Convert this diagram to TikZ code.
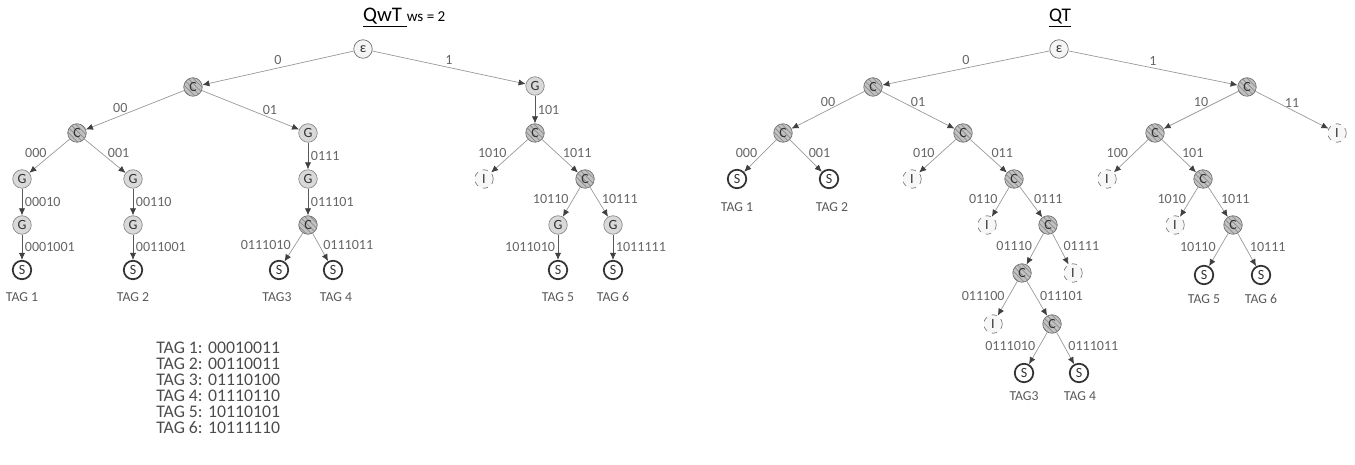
\documentclass[tikz,border=0pt]{standalone}
\usepackage{fontspec}
\setmainfont{Carlito}
\usetikzlibrary{arrows.meta,patterns}

\tikzset{
	tn/.style={circle, minimum size=0.37cm, inner sep=0pt, font=\fontsize{8}{8}\selectfont, text=black!80},
	rnode/.style={tn, draw=black!55, fill=black!4},
	cnode/.style={tn, draw=black!55, preaction={fill=black!24}, pattern=north west lines, pattern color=black!45},
	gnode/.style={tn, draw=black!45, fill=black!15},
	snode/.style={tn, draw=black!80, fill=white, line width=1pt},
	inode/.style={tn, draw=black!50, fill=black!3, dashed},
	lbl/.style={font=\fontsize{8}{8}\selectfont, text=black!60, inner sep=1.5pt},
	tag/.style={font=\fontsize{7.8}{8}\selectfont, text=black!65},
	arr/.style={draw=black!40, line width=0.4pt, -{Latex[length=4pt,width=3.5pt,color=black!75]}},
	varr/.style={arr, draw=black!65},
}

\begin{document}
\begin{tikzpicture}[x=0.02cm, y=-0.02cm]
			%%%%% START %%%%%
			\useasboundingbox (0,0) rectangle (1355,465);
			
			% QwT
			\node[anchor=west] (wtitle) at (357,18) {\fontsize{11.8}{12}\selectfont\underline{QwT\ }\fontsize{8.6}{9}\selectfont ws = 2};
			
			\node[rnode] (wr) at (363,49) {ε};
			\node[cnode] (w0) at (193,87) {C};
			\node[gnode] (w1) at (535,86) {G};
			\node[cnode] (w00) at (77,133) {C};
			\node[gnode] (w01) at (308,133) {G};
			\node[cnode] (w101) at (535,133) {C};
			\node[gnode] (w000) at (22,179) {G};
			\node[gnode] (w001) at (133,179) {G};
			\node[gnode] (w0111) at (308,179) {G};
			\node[inode] (w1010) at (484,179) {I};
			\node[cnode] (w1011) at (585,179) {C};
			\node[gnode] (w00010) at (22,225) {G};
			\node[gnode] (w00110) at (133,225) {G};
			\node[cnode] (w011101) at (308,225) {C};
			\node[gnode] (w10110) at (558,225) {G};
			\node[gnode] (w10111) at (613,225) {G};
			\node[snode] (w0001001) at (22,270) {S};
			\node[snode] (w0011001) at (133,270) {S};
			\node[snode] (w0111010) at (279,270) {S};
			\node[snode] (w0111011) at (333,270) {S};
			\node[snode] (w1011010) at (558,270) {S};
			\node[snode] (w1011111) at (613,270) {S};
			
			\node[tag] (wt1) at (22,297) {TAG 1};
			\node[tag] (wt2) at (133,297) {TAG 2};
			\node[tag] (wt3) at (277,297) {TAG3};
			\node[tag] (wt4) at (336,297) {TAG 4};
			\node[tag] (wt5) at (558,297) {TAG 5};
			\node[tag] (wt6) at (613,297) {TAG 6};
			
			\draw[arr] (wr) -- node[lbl, above] {0} (w0);
			\draw[arr] (wr) -- node[lbl, above] {1} (w1);
			\draw[arr] (w0) -- node[lbl, pos=0.65, above] {00} (w00);
			\draw[arr] (w0) -- node[lbl, pos=0.7, above] {01} (w01);
			\draw[varr] (w1) -- node[lbl, right] {101} (w101);
			\draw[arr] (w00) -- node[lbl, left, yshift=1.5pt] {000} (w000);
			\draw[arr] (w00) -- node[lbl, right, yshift=1.5pt] {001} (w001);
			\draw[varr] (w01) -- node[lbl, right] {0111} (w0111);
			\draw[arr] (w101) -- node[lbl, left, yshift=1.5pt] {1010} (w1010);
			\draw[arr] (w101) -- node[lbl, right, yshift=1.5pt] {1011} (w1011);
			\draw[varr] (w000) -- node[lbl, right] {00010} (w00010);
			\draw[varr] (w001) -- node[lbl, right] {00110} (w00110);
			\draw[varr] (w0111) -- node[lbl, right] {011101} (w011101);
			\draw[arr] (w1011) -- node[lbl, left, yshift=1.5pt] {10110} (w10110);
			\draw[arr] (w1011) -- node[lbl, right, yshift=1.5pt] {10111} (w10111);
			\draw[varr] (w00010) -- node[lbl, right] {0001001} (w0001001);
			\draw[varr] (w00110) -- node[lbl, right] {0011001} (w0011001);
			\draw[arr] (w011101) -- node[lbl, left, yshift=1.5pt] {0111010} (w0111010);
			\draw[arr] (w011101) -- node[lbl, right, yshift=1.5pt] {0111011} (w0111011);
			\draw[varr] (w10110) -- node[lbl, left] {1011010} (w1011010);
			\draw[varr] (w10111) -- node[lbl, right] {1011111} (w1011111);
			
			\node[anchor=north west, align=left, inner sep=0pt, text=black!70, font=\fontsize{10.1}{9.1}\selectfont] (taglist) at (156,342) {TAG 1: 00010011\\TAG 2: 00110011\\TAG 3: 01110100\\TAG 4: 01110110\\TAG 5: 10110101\\TAG 6: 10111110};
			
			% QT
			\node (qtitle) at (1060,18) {\fontsize{11}{12}\selectfont\underline{QT}};
			
			\node[rnode] (qr) at (1059,49) {ε};
			\node[cnode] (q0) at (873,87) {C};
			\node[cnode] (q1) at (1247,87) {C};
			\node[cnode] (q00) at (783,133) {C};
			\node[cnode] (q01) at (963,133) {C};
			\node[cnode] (q10) at (1155,133) {C};
			\node[inode] (q11) at (1337,133) {I};
			\node[snode] (q000) at (737,179) {S};
			\node[snode] (q001) at (829,179) {S};
			\node[inode] (q010) at (912,179) {I};
			\node[cnode] (q011) at (1014,179) {C};
			\node[inode] (q100) at (1107,179) {I};
			\node[cnode] (q101) at (1203,179) {C};
			\node[inode] (q0110) at (987,225) {I};
			\node[cnode] (q0111) at (1048,225) {C};
			\node[inode] (q1010) at (1175,225) {I};
			\node[cnode] (q1011) at (1233,225) {C};
			\node[cnode] (q01110) at (1022,273) {C};
			\node[inode] (q01111) at (1073,273) {I};
			\node[snode] (q10110) at (1204,275) {S};
			\node[snode] (q10111) at (1261,275) {S};
			\node[inode] (q011100) at (993,324) {I};
			\node[cnode] (q011101) at (1052,324) {C};
			\node[snode] (q0111010) at (1024,373) {S};
			\node[snode] (q0111011) at (1079,373) {S};
			
			\node[tag] (qt1) at (737,207) {TAG 1};
			\node[tag] (qt2) at (832,207) {TAG 2};
			\node[tag] (qt5) at (1204,299) {TAG 5};
			\node[tag] (qt6) at (1261,299) {TAG 6};
			\node[tag] (qt3) at (1024,396) {TAG3};
			\node[tag] (qt4) at (1080,396) {TAG 4};
			
			\draw[arr] (qr) -- node[lbl, above] {0} (q0);
			\draw[arr] (qr) -- node[lbl, above] {1} (q1);
			\draw[arr] (q0) -- node[lbl, above] {00} (q00);
			\draw[arr] (q0) -- node[lbl, above] {01} (q01);
			\draw[arr] (q1) -- node[lbl, above] {10} (q10);
			\draw[arr] (q1) -- node[lbl, above] {11} (q11);
			\draw[arr] (q00) -- node[lbl, left, yshift=1.5pt] {000} (q000);
			\draw[arr] (q00) -- node[lbl, right, yshift=1.5pt] {001} (q001);
			\draw[arr] (q01) -- node[lbl, left, yshift=1.5pt] {010} (q010);
			\draw[arr] (q01) -- node[lbl, right, yshift=1.5pt] {011} (q011);
			\draw[arr] (q10) -- node[lbl, left, yshift=1.5pt] {100} (q100);
			\draw[arr] (q10) -- node[lbl, right, yshift=1.5pt] {101} (q101);
			\draw[arr] (q011) -- node[lbl, left, yshift=1.5pt] {0110} (q0110);
			\draw[arr] (q011) -- node[lbl, right, yshift=1.5pt] {0111} (q0111);
			\draw[arr] (q101) -- node[lbl, left, yshift=1.5pt] {1010} (q1010);
			\draw[arr] (q101) -- node[lbl, right, yshift=1.5pt] {1011} (q1011);
			\draw[arr] (q0111) -- node[lbl, left, yshift=1.5pt] {01110} (q01110);
			\draw[arr] (q0111) -- node[lbl, right, yshift=1.5pt] {01111} (q01111);
			\draw[arr] (q1011) -- node[lbl, left, yshift=1.5pt] {10110} (q10110);
			\draw[arr] (q1011) -- node[lbl, right, yshift=1.5pt] {10111} (q10111);
			\draw[arr] (q01110) -- node[lbl, left, yshift=1.5pt] {011100} (q011100);
			\draw[arr] (q01110) -- node[lbl, right, yshift=1.5pt] {011101} (q011101);
			\draw[arr] (q011101) -- node[lbl, left, yshift=1.5pt] {0111010} (q0111010);
			\draw[arr] (q011101) -- node[lbl, right, yshift=1.5pt] {0111011} (q0111011);
			
			%%%%% END %%%%%
\end{tikzpicture}
\end{document}
